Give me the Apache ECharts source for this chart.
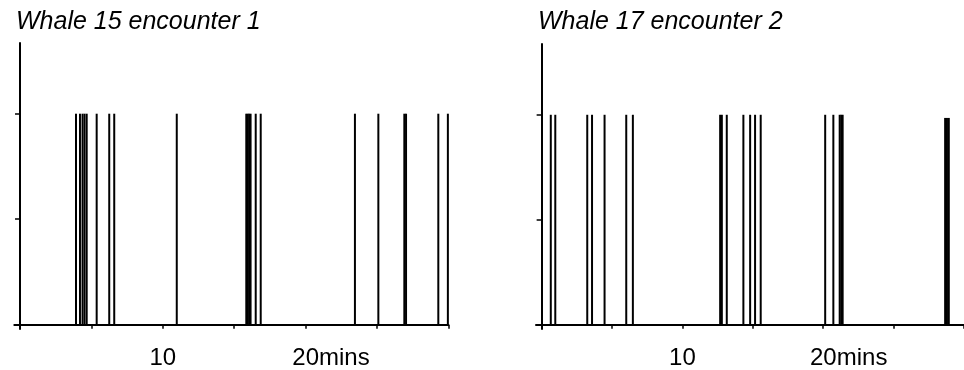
<!DOCTYPE html>
<html>
<head>
<meta charset="utf-8">
<script src="https://cdn.jsdelivr.net/npm/echarts@6/dist/echarts.min.js"></script>
<style>
html,body{margin:0;padding:0;background:#fff;}
#c{width:964px;height:370px;}
</style>
</head>
<body>
<div id="c"></div>
<script>
// ---- data (minutes) ----
const titles = ['Whale 15 encounter 1', 'Whale 17 encounter 2'];
const w15Times = [3.92, 4.20, 4.38, 4.52, 4.67, 5.37, 6.25, 6.60, 10.98, 15.85, 15.95, 16.05, 16.15, 16.51, 16.86, 23.46, 25.10, 26.92, 27.04, 29.30, 29.97];
const w15Heights = [1, 1, 1, 1, 1, 1, 1, 1, 1, 1, 1, 1, 1, 1, 1, 1, 1, 1, 1, 1, 1];
const w17Times = [0.65, 0.97, 3.24, 3.58, 4.47, 6.01, 6.48, 12.68, 12.80, 13.15, 14.33, 14.81, 15.16, 15.56, 20.14, 20.72, 21.17, 21.28, 21.38, 28.66, 28.79, 28.92];
const w17Heights = [1, 1, 1, 1, 1, 1, 1, 1, 1, 1, 1, 1, 1, 1, 1, 1, 1, 1, 1, 0.985, 0.985, 0.985];
const xTickValues = [0, 5, 10, 15, 20, 25, 30];
const xLabelValues = [10, 20];
const xUnit = 'mins';
const yTickValues = [0, 0.5, 1];

const FONT = '"Liberation Sans", Arial, Helvetica, sans-serif';
const FS = 24;
const TFS = 25;

function toData(times, heights) {
  return times.map((t, i) => [t, heights[i]]);
}

function xAxis(gi) {
  return {
    type: 'value', gridIndex: gi, min: -0.4, max: 30,
    splitLine: {show: false},
    axisLine: {show: true, onZero: true, lineStyle: {color: '#000', width: 2}},
    axisTick: {show: true, customValues: xTickValues, length: 4, lineStyle: {color: '#000', width: 1.5}},
    axisLabel: {
      show: true, customValues: xLabelValues, margin: 17,
      formatter: v => (v === 20 ? '{u|' + v + xUnit + '}' : '{n|' + v + '}'),
      rich: {
        n: {fontSize: FS, fontFamily: FONT, color: '#000'},
        u: {fontSize: FS, fontFamily: FONT, color: '#000', padding: [0, 0, 0, 51]}
      }
    }
  };
}
function yAxis(gi, max) {
  return {
    type: 'value', gridIndex: gi, min: -0.02, max: max,
    splitLine: {show: false},
    axisLine: {show: true, onZero: true, lineStyle: {color: '#000', width: 2}},
    axisTick: {show: true, customValues: yTickValues, length: 5, lineStyle: {color: '#000', width: 1.5}},
    axisLabel: {show: false}
  };
}
function renderItem(params, api) {
  const t = api.value(0), h = api.value(1);
  const p0 = api.coord([t, 0]);
  const p1 = api.coord([t, h]);
  return {
    type: 'line',
    shape: {x1: p0[0], y1: p0[1], x2: p1[0], y2: p1[1]},
    style: {stroke: '#000', lineWidth: 2}
  };
}

const chart = echarts.init(document.getElementById('c'), null, {renderer: 'canvas'});
chart.setOption({
  backgroundColor: '#fff',
  animation: false,
  title: [
    {text: titles[0], left: 16, top: 10, padding: 0,
     textStyle: {fontSize: TFS, fontStyle: 'italic', fontWeight: 'normal', fontFamily: FONT, color: '#000'}},
    {text: titles[1], left: 538, top: 10, padding: 0,
     textStyle: {fontSize: TFS, fontStyle: 'italic', fontWeight: 'normal', fontFamily: FONT, color: '#000'}}
  ],
  grid: [
    {left: 14.3, top: 43, width: 434, height: 287},
    {left: 536, top: 44, width: 438, height: 288}
  ],
  xAxis: [xAxis(0), xAxis(1)],
  yAxis: [yAxis(0, 1.335), yAxis(1, 1.337)],
  series: [
    {type: 'custom', xAxisIndex: 0, yAxisIndex: 0, renderItem: renderItem, encode: {x: 0, y: 1}, data: toData(w15Times, w15Heights)},
    {type: 'custom', xAxisIndex: 1, yAxisIndex: 1, renderItem: renderItem, encode: {x: 0, y: 1}, data: toData(w17Times, w17Heights)}
  ]
});
</script>
</body>
</html>
